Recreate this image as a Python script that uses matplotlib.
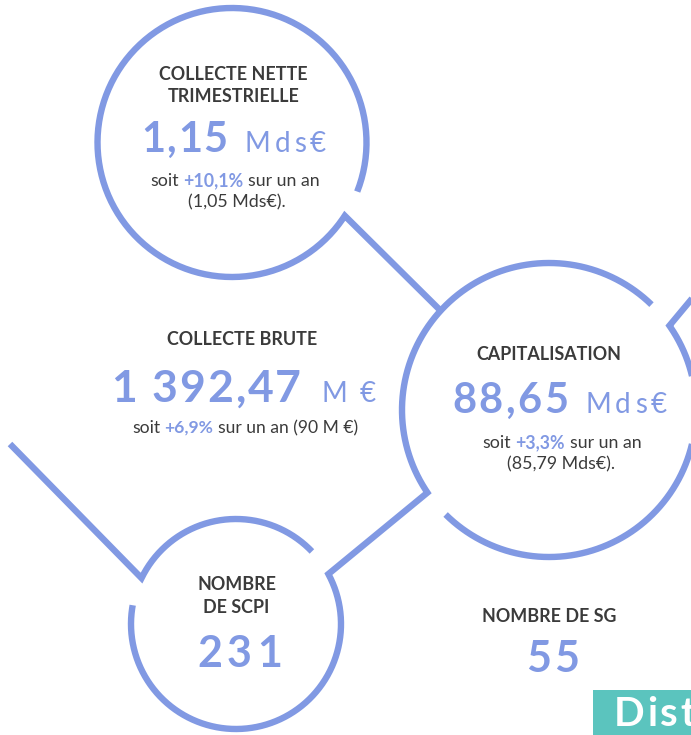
import numpy as np
import matplotlib
matplotlib.use("Agg")
import matplotlib.pyplot as plt
from matplotlib.patches import Rectangle
from matplotlib.font_manager import findfont, FontProperties
from matplotlib import ft2font
from matplotlib.ft2font import FT2Font

# ---------------- data ----------------
titles = [["COLLECTE NETTE", "TRIMESTRIELLE"], ["COLLECTE BRUTE"], ["CAPITALISATION"],
          ["NOMBRE", "DE SCPI"], ["NOMBRE DE SG"]]
values = ["1,15", "1 392,47", "88,65", "231", "55"]
units = ["Mds€", "M €", "Mds€", "", ""]
changes = ["+10,1%", "+6,9%", "+3,3%", None, None]
previous = ["(1,05 Mds€).", "(90 M €)", "(85,79 Mds€).", None, None]
banner_text = "Distribution"

# ---------------- style ----------------
BLUE = "#8199e3"
DARK = "#3b3b3b"
TEAL = "#5bc4be"
FAM = "Lato"
W, H = 691, 735

fig = plt.figure(figsize=(W / 100, H / 100), dpi=100)
fig.patch.set_facecolor("white")
ax = fig.add_axes([0, 0, 1, 1])
ax.set_xlim(0, W)
ax.set_ylim(H, 0)
ax.set_axis_off()

try:
    NOHINT = ft2font.LoadFlags.NO_HINTING
except AttributeError:
    NOHINT = ft2font.LOAD_NO_HINTING

_fonts = {}
def _font(weight):
    if weight not in _fonts:
        _fonts[weight] = FT2Font(findfont(FontProperties(family=FAM, weight=weight)))
    return _fonts[weight]

def adv(s, size, weight):
    f = _font(weight)
    f.set_size(size, 100)
    return sum(f.load_char(ord(c), flags=NOHINT).linearHoriAdvance / 65536 for c in s)

def seg_width(text, size, weight, track):
    if track:
        return sum(adv(c, size, weight) for c in text) + track * (len(text) - 1)
    return adv(text, size, weight)

def draw_tracked(x, y, t, s, w, c, tr):
    for ch in t:
        if x >= W:          # characters beyond the right edge are invisible
            break
        ax.text(x, y, ch, fontsize=s, fontweight=w, color=c, family=FAM,
                ha="left", va="baseline", clip_on=True)
        x += adv(ch, s, w) + tr

def draw_line(cx, y, segs):
    """segs: list of (text, size, weight, color, track, gap_before)"""
    ws = [seg_width(t, s, w, tr) for t, s, w, c, tr, g in segs]
    total = sum(ws) + sum(g for *_, g in segs)
    x = cx - total / 2
    for (t, s, w, c, tr, g), wd in zip(segs, ws):
        x += g
        if tr:
            draw_tracked(x, y, t, s, w, c, tr)
        else:
            ax.text(x, y, t, fontsize=s, fontweight=w, color=c, family=FAM,
                    ha="left", va="baseline")
        x += wd

# ---------------- rings ----------------
C1, R1 = (232, 142.5), 134.5
C2, R2 = (549, 410), 147
C3, R3 = (236, 624), 105

def arc(c, r, a0, a1, n=240):
    t = np.radians(np.linspace(a0, a1, n))
    return np.column_stack([c[0] + r * np.cos(t), c[1] - r * np.sin(t)])

def pt(c, r, a):
    return arc(c, r, a, a, 1)

paths = [
    np.vstack([arc(C1, R1, -21.4, 327), pt(C2, R2, 137.5)]),
    np.vstack([arc(C2, R2, 45.8, 214.2), arc(C3, R3, 28.4, -190.3)]),
    np.vstack([arc(C2, R2, 225.3, 395), [[720, 265]]]),
    np.vstack([[[10, 444]], arc(C3, R3, 154.1, 43.7)]),
]
for p in paths:
    ax.plot(p[:, 0], p[:, 1], color=BLUE, lw=4.6, solid_joinstyle="miter",
            solid_capstyle="butt", clip_on=True)

# ---------------- texts ----------------
TS = 12.9   # titles
BS = 12.8   # body
UW = "normal"
def title(cx, y, s):
    draw_line(cx, y, [(s, TS, "bold", DARK, 0, 0)])

def body_change(cx, y, chg, tail, size=BS):
    sp = adv(" ", size, "normal")
    draw_line(cx, y, [("soit", size, "normal", DARK, 0, 0),
                      (chg, size, "bold", BLUE, 0, sp),
                      (tail, size, "normal", DARK, 0, sp)])

# 1. Collecte nette trimestrielle
title(233, 80, titles[0][0])
title(233, 102, titles[0][1])
draw_line(233.5, 152, [(values[0], 30, "bold", BLUE, 1.5, 0),
                       (units[0], 20, UW, BLUE, 4, 17)])
body_change(235, 186, changes[0], "sur un an")
draw_line(237, 207, [(previous[0], BS, "normal", DARK, 0, 0)])

# 2. Collecte brute
title(241.5, 345, titles[1][0])
draw_line(243.5, 402, [(values[1], 32, "bold", BLUE, 2, 0),
                       (units[1], 20, UW, BLUE, 3, 20)])
body_change(245, 433, changes[1], "sur un an " + previous[1], size=12.6)

# 3. Capitalisation
title(548.5, 360, titles[2][0])
draw_line(559.5, 413, [(values[2], 30, "bold", BLUE, 2.5, 0),
                       (units[2], 20, UW, BLUE, 4, 17)])
body_change(562, 448, changes[2], "sur un an")
draw_line(561, 469, [(previous[2], BS, "normal", DARK, 0, 0)])

# 4. Nombre de SCPI
title(236.5, 590, titles[3][0])
title(236.5, 613, titles[3][1])
draw_line(239.5, 667, [(values[3], 31, "bold", BLUE, 5, 0)])

# 5. Nombre de SG
title(548.5, 622, titles[4][0])
draw_line(552.5, 672, [(values[4], 31, "bold", BLUE, 3, 0)])

# banner
ax.add_patch(Rectangle((593, 690), 120, 60, facecolor=TEAL, edgecolor="none"))
draw_tracked(614, 726, banner_text, 29, "bold", "white", 2.5)

fig.savefig("out.png", dpi=100, facecolor="white")
